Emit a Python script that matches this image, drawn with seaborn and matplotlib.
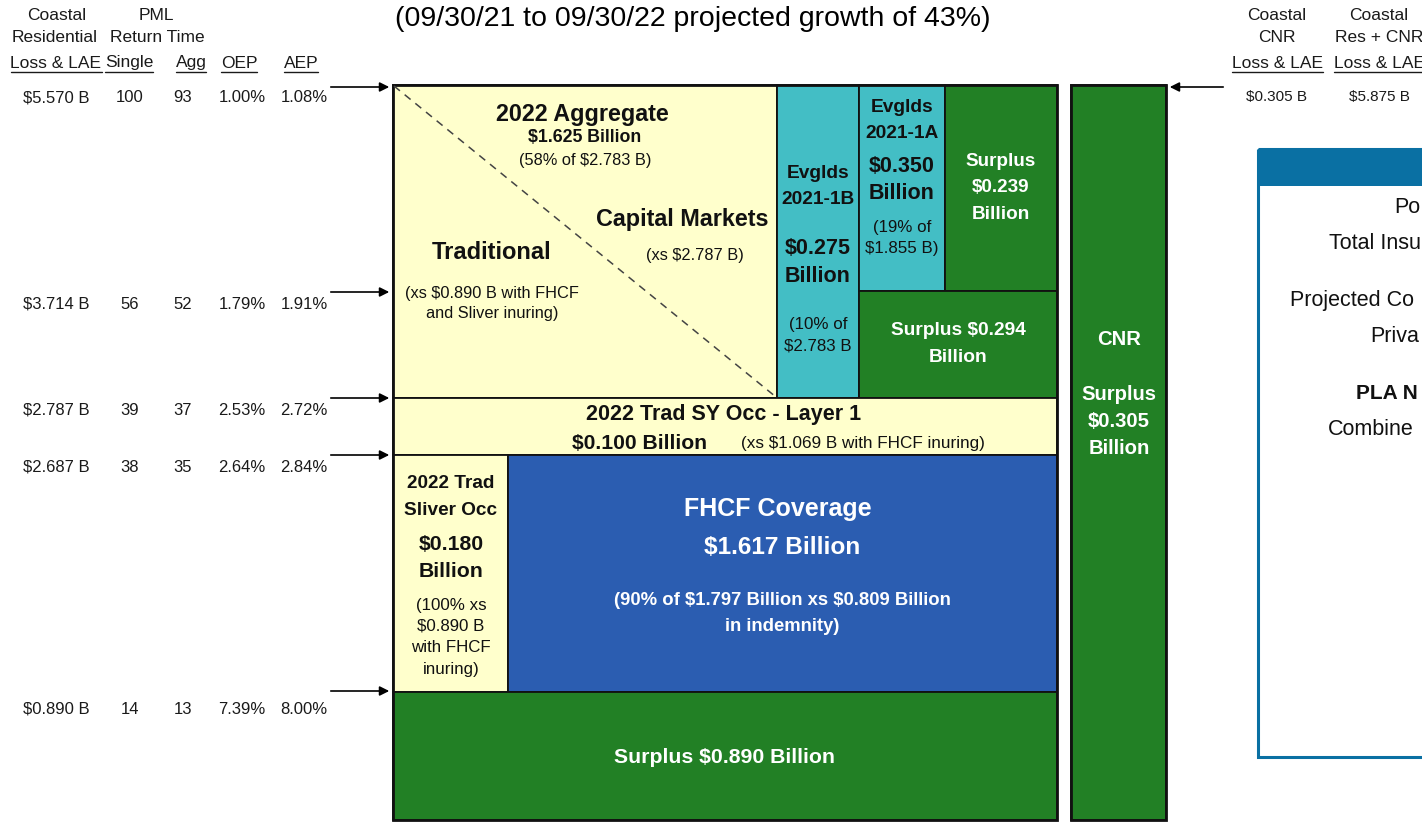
import matplotlib
matplotlib.use("Agg")
import matplotlib.pyplot as plt
import seaborn as sns

# ------------------------------------------------------------------ data
title = "(09/30/21 to 09/30/22 projected growth of 43%)"

res_loss = ["$5.570 B", "$3.714 B", "$2.787 B", "$2.687 B", "$0.890 B"]
pml_single = ["100", "56", "39", "38", "14"]
pml_agg = ["93", "52", "37", "35", "13"]
oep = ["1.00%", "1.79%", "2.53%", "2.64%", "7.39%"]
aep = ["1.08%", "1.91%", "2.72%", "2.84%", "8.00%"]

cnr_loss = ["$0.305 B"]
res_cnr_loss = ["$5.875 B"]

left_headers = [["Coastal", "Residential", "Loss & LAE"],
                ["", "", "Single"],
                ["", "", "Agg"],
                ["", "", "OEP"],
                ["", "", "AEP"]]
pml_header = ["PML", "Return Time"]
right_headers = [["Coastal", "CNR", "Loss & LAE"],
                 ["Coastal", "Res + CNR", "Loss & LAE"]]

block_names = ["trad_cap", "evg_1b", "evg_1a", "surplus_239", "surplus_294",
               "trad_sy", "sliver", "fhcf", "surplus_890", "cnr"]
block_kind = ["yellow", "teal", "teal", "green", "green",
              "yellow", "yellow", "blue", "green", "green"]

box_lines = ["Po", "Total Insu", "Projected Co", "Priva", "PLA N", "Combine"]

# ------------------------------------------------------------------ layout / styles (pixel space)
W, H = 1422, 822
colors = {"yellow": "#FFFFCC", "teal": "#43BEC5", "green": "#228025", "blue": "#2B5DB1"}
# left, top, width, height
block_geom = {
    "trad_cap": (393, 85, 384, 313),
    "evg_1b": (777, 85, 82, 313),
    "evg_1a": (859, 85, 86, 206),
    "surplus_239": (945, 85, 112, 206),
    "surplus_294": (859, 291, 198, 107),
    "trad_sy": (393, 398, 664, 57),
    "sliver": (393, 455, 115, 237),
    "fhcf": (508, 455, 549, 237),
    "surplus_890": (393, 692, 664, 128),
    "cnr": (1071, 85, 95, 735),
}

sns.set_theme(style="white")
plt.rcParams["font.family"] = ["Liberation Sans", "DejaVu Sans"]

fig = plt.figure(figsize=(W / 100, H / 100), dpi=100)
ax = fig.add_axes([0, 0, 1, 1])
ax.set_xlim(0, W)
ax.set_ylim(H, 0)
ax.axis("off")

# blocks drawn as bars
for name, kind in zip(block_names, block_kind):
    l, t, w, h = block_geom[name]
    ax.bar(l, h, width=w, bottom=t, align="edge", color=colors[kind],
           edgecolor="#111111", linewidth=1.3, zorder=2)
# outer frames
ax.bar(393, 735, width=664, bottom=85, align="edge", fill=False,
       edgecolor="#111111", linewidth=2.0, zorder=3)
ax.bar(1071, 735, width=95, bottom=85, align="edge", fill=False,
       edgecolor="#111111", linewidth=2.0, zorder=3)

# dashed diagonal
ax.plot([394, 776], [86, 397], ls=(0, (5, 4)), color="#444444", lw=1.1, zorder=3)

def txt(x, y, s, size=12, bold=False, color="#111111", ha="center"):
    return ax.text(x, y, s, fontsize=size, fontweight="bold" if bold else "normal",
                   color=color, ha=ha, va="center", zorder=5, parse_math=False)

# title
txt(693, 19, title, size=20.5, color="#000000")

# ---- left table
col_x = [56, 130, 183, 242, 304]
row_y = [98, 304, 410, 467, 709]
for i, y in enumerate(row_y):
    for cx, col in zip(col_x, [res_loss, pml_single, pml_agg, oep, aep]):
        txt(cx, y, col[i], size=12, color="#1a1a1a")

hdr_x = [56, 129, 191, 239, 301]
txt(57, 16, left_headers[0][0], size=12.5, color="#1a1a1a")
txt(55, 37, left_headers[0][1], size=12.5, color="#1a1a1a")
txt(156, 16, pml_header[0], size=12.5, color="#1a1a1a")
txt(157, 37, pml_header[1], size=12.5, color="#1a1a1a")
under = []
for hx, hdr in zip(hdr_x, left_headers):
    under.append(txt(hx, 63, hdr[2], size=12.5, color="#1a1a1a"))

# ---- right table
rx = [1277, 1379]
for x, hdr in zip(rx, right_headers):
    txt(x, 16, hdr[0], size=12.5, color="#1a1a1a")
    txt(x, 37, hdr[1], size=12.5, color="#1a1a1a")
    under.append(txt(x, 63, hdr[2], size=12.5, color="#1a1a1a"))
txt(1277, 97, cnr_loss[0], size=11, color="#1a1a1a")
txt(1379, 97, res_cnr_loss[0], size=11, color="#1a1a1a")

# underlines from text extents
fig.canvas.draw()
r = fig.canvas.get_renderer()
inv = ax.transData.inverted()
for t in under:
    bb = t.get_window_extent(renderer=r)
    (x0, _), (x1, _) = inv.transform([(bb.x0, bb.y0), (bb.x1, bb.y1)])
    ax.plot([x0, min(x1, W)], [72, 72], color="#1a1a1a", lw=1.0, clip_on=False)

# arrows
arrow_kw = dict(arrowstyle="-|>", color="black", lw=1.2, mutation_scale=14)
for y in [87, 292, 398, 455, 691]:
    ax.annotate("", xy=(392, y), xytext=(328, y), arrowprops=arrow_kw, zorder=6)
ax.annotate("", xy=(1167, 87), xytext=(1226, 87), arrowprops=arrow_kw, zorder=6)

# ---- block texts
Wt = "white"
txt(582, 114, "2022 Aggregate", 16.8, True)
txt(585, 138, "$1.625 Billion", 12.8, True)
txt(585, 161, "(58% of $2.783 B)", 11.8)
txt(682, 219, "Capital Markets", 16.8, True)
txt(695, 255, "(xs $2.787 B)", 11.8)
txt(492, 252, "Traditional", 17, True)
txt(492, 293, "(xs $0.890 B with FHCF", 11.8)
txt(492, 313, "and Sliver inuring)", 11.8)

txt(818, 173, "Evglds", 13.8, True)
txt(818, 199, "2021-1B", 13.8, True)
txt(818, 248, "$0.275", 15.5, True)
txt(818, 276, "Billion", 15.5, True)
txt(818, 324, "(10% of", 12.2)
txt(818, 346, "$2.783 B", 12.2)

txt(902, 108, "Evglds", 13.8, True)
txt(902, 134, "2021-1A", 13.8, True)
txt(902, 167, "$0.350", 15.5, True)
txt(902, 193, "Billion", 15.5, True)
txt(902, 227, "(19% of", 12.2)
txt(902, 248, "$1.855 B)", 12.2)

txt(1001, 161, "Surplus", 13.6, True, Wt)
txt(1001, 187, "$0.239", 13.6, True, Wt)
txt(1001, 214, "Billion", 13.6, True, Wt)
txt(958, 330, "Surplus $0.294", 13.8, True, Wt)
txt(958, 357, "Billion", 13.8, True, Wt)

txt(724, 414, "2022 Trad SY Occ - Layer 1", 15.5, True)
txt(639, 443, "$0.100 Billion", 15.2, True)
txt(863, 443, "(xs $1.069 B with FHCF inuring)", 12.3)

txt(451, 483, "2022 Trad", 13.7, True)
txt(451, 510, "Sliver Occ", 13.7, True)
txt(451, 544, "$0.180", 15.3, True)
txt(451, 571, "Billion", 15.3, True)
txt(451, 605, "(100% xs", 12.2)
txt(451, 626, "$0.890 B", 12.2)
txt(451, 647, "with FHCF", 12.2)
txt(451, 669, "inuring)", 12.2)

txt(778, 509, "FHCF Coverage", 18, True, Wt)
txt(782, 547, "$1.617 Billion", 17.6, True, Wt)
txt(782, 600, "(90% of $1.797 Billion xs $0.809 Billion", 13.3, True, Wt)
txt(782, 626, "in indemnity)", 13.3, True, Wt)

txt(725, 757, "Surplus $0.890 Billion", 15.3, True, Wt)

txt(1119, 339, "CNR", 14.6, True, Wt)
txt(1119, 394, "Surplus", 14.6, True, Wt)
txt(1119, 421, "$0.305", 14.6, True, Wt)
txt(1119, 448, "Billion", 14.6, True, Wt)

# ---- right info box (cut off at figure edge)
ax.bar(1258, 37, width=200, bottom=149, align="edge", color="#0A70A3",
       edgecolor="#0A70A3", linewidth=0, zorder=2, clip_on=True)
ax.bar(1258, 608, width=200, bottom=149, align="edge", fill=False,
       edgecolor="#0A70A3", linewidth=2.2, zorder=3, clip_on=True)
box_pos = [(1394, 207, False), (1329, 243, False), (1290, 300, False),
           (1370, 336, False), (1356, 393, True), (1328, 429, False)]
box_size = [15.5, 15.5, 15.5, 15.5, 15, 15.5]
for s, (x, y, b), fs in zip(box_lines, box_pos, box_size):
    txt(x, y, s, fs, b, "#111111", ha="left")

fig.savefig("out.png", dpi=100)
